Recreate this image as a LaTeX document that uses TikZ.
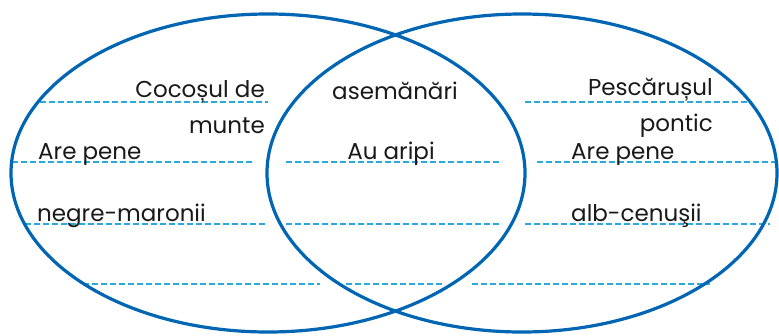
\documentclass[tikz,border=0pt]{standalone}
\usepackage{fontspec}
\setmainfont{Poppins}
\definecolor{ring}{RGB}{0,102,179}
\definecolor{dashc}{RGB}{42,168,224}
\begin{document}
\begin{tikzpicture}[x=1pt,y=-1pt,
  ringline/.style={draw=ring,line width=3.2pt},
  guide/.style={draw=dashc,line width=1.1pt,dash pattern=on 6pt off 3pt},
  lbl/.style={inner sep=0pt,font=\fontsize{23}{26}\selectfont,text=black!90}]
\useasboundingbox (0,0) rectangle (779,335);
% guide lines
\draw[guide] (40,102) -- (268,102);
\draw[guide] (525,102) -- (752,102);
\draw[guide] (12,162) -- (255,162);
\draw[guide] (286,162) -- (502,162);
\draw[guide] (537,162) -- (779,162);
\draw[guide] (25,224) -- (267,224);
\draw[guide] (286,224) -- (502,224);
\draw[guide] (525,224) -- (770,224);
\draw[guide] (83,284) -- (320,284);
\draw[guide] (346,284) -- (445,284);
\draw[guide] (472,284) -- (710,284);
% ellipses
\draw[ringline] (268,173) ellipse [x radius=257pt, y radius=159pt];
\draw[ringline] (522,173) ellipse [x radius=255pt, y radius=159pt];
% texts
\node[lbl,anchor=base east] (t1) at (265,97) {Cocoșul de};
\node[lbl,anchor=base east] (t2) at (265,133) {munte};
\node[lbl,anchor=base west] (t3) at (38,159) {Are pene};
\node[lbl,anchor=base west] (t4) at (37,221) {negre-maronii};
\node[lbl,anchor=base] (m1) at (395,99) {asemănări};
\node[lbl,anchor=base] (m2) at (391,159) {Au aripi};
\node[lbl,anchor=base east] (r1) at (713,95) {Pescărușul};
\node[lbl,anchor=base east] (r2) at (713,131) {pontic};
\node[lbl,anchor=base west] (r3) at (571,159) {Are pene};
\node[lbl,anchor=base west] (r4) at (571,221) {alb-cenuşii};
\end{tikzpicture}
\end{document}
